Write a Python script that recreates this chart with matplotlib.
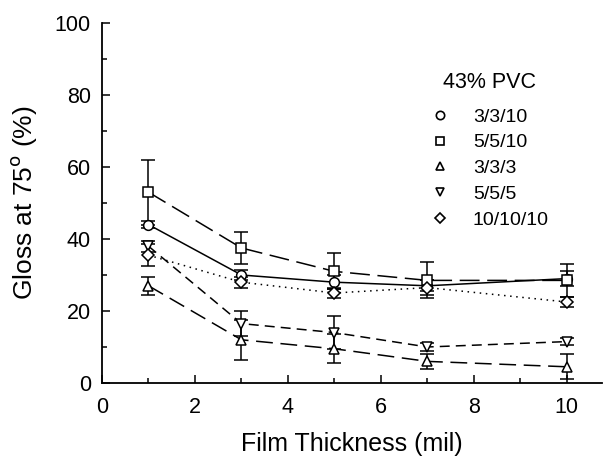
import matplotlib.pyplot as plt
import numpy as np

plt.rcParams['font.family'] = ['Liberation Sans', 'DejaVu Sans']

thickness = [1, 3, 5, 7, 10]

labels = ['3/3/10', '5/5/10', '3/3/3', '5/5/5', '10/10/10']
markers = ['o', 's', '^', 'v', 'D']
styles = ['-', (0, (13, 5)), (0, (11, 5)), (0, (6.5, 4)), (0, (1, 3))]

gloss = [
    [44, 30, 28, 27, 29],
    [53, 37.5, 31, 28.5, 28.5],
    [27, 12, 9.5, 6, 4.5],
    [38, 16.5, 14, 10, 11.5],
    [35.5, 28, 25, 26.5, 22.5],
]
err = [
    [1, 1.5, 2, 1.5, 2],
    [9, 4.5, 5, 5, 4.5],
    [2.5, 5.5, 4, 2, 3.5],
    [1.5, 3.5, 4.5, 1, 1],
    [3, 1.5, 1.5, 2, 1.5],
]

fig = plt.figure(figsize=(6.05, 4.59), dpi=100)
ax = fig.add_axes([0.1686, 0.1656, 0.826, 0.7843])

for i in range(len(labels)):
    ax.errorbar(thickness, gloss[i], yerr=err[i], color='black', lw=1.1,
                linestyle=styles[i], marker=markers[i], mfc='white', mec='black',
                ms=7 if markers[i] != 'D' else 6.5, mew=1.1, capsize=5, elinewidth=1.1,
                capthick=1.1, zorder=3)

# legend drawn as markers only
for i in range(len(labels)):
    ax.plot([], [], linestyle='none', marker=markers[i], mfc='white', mec='black',
            ms=6 if markers[i] != 'D' else 5.5, mew=1.2, label=labels[i])
h, l = ax.get_legend_handles_labels()
leg = ax.legend(h[-5:], l[-5:], frameon=False, loc='upper left',
                bbox_to_anchor=(0.656, 0.764), fontsize=14,
                handlelength=1.0, handletextpad=1.22, labelspacing=0.42,
                borderpad=0, borderaxespad=0)
ax.text(0.682, 0.836, '43% PVC', transform=ax.transAxes, fontsize=15.5,
        va='center', ha='left')

ax.set_xlim(0, 10.75)
ax.set_ylim(0, 100)
ax.set_xticks([0, 2, 4, 6, 8, 10])
ax.set_xticks([1, 3, 5, 7, 9], minor=True)
ax.set_yticks([0, 20, 40, 60, 80, 100])
ax.set_yticks([10, 30, 50, 70, 90], minor=True)
ax.tick_params(direction='in', which='major', length=6, width=1.1, labelsize=15.5)
ax.tick_params(axis='x', which='major', pad=10)
ax.tick_params(axis='y', which='major', pad=8)
ax.tick_params(direction='in', which='minor', length=3.5, width=1.1)
ax.spines['top'].set_visible(False)
ax.spines['right'].set_visible(False)
for s in ['left', 'bottom']:
    ax.spines[s].set_linewidth(1.3)

ax.set_xlabel('Film Thickness (mil)', fontsize=18, labelpad=10)
ax.set_ylabel('Gloss at 75$^{\\mathrm{o}}$ (%)', fontsize=19, labelpad=11)

fig.savefig('out.png', dpi=100)
